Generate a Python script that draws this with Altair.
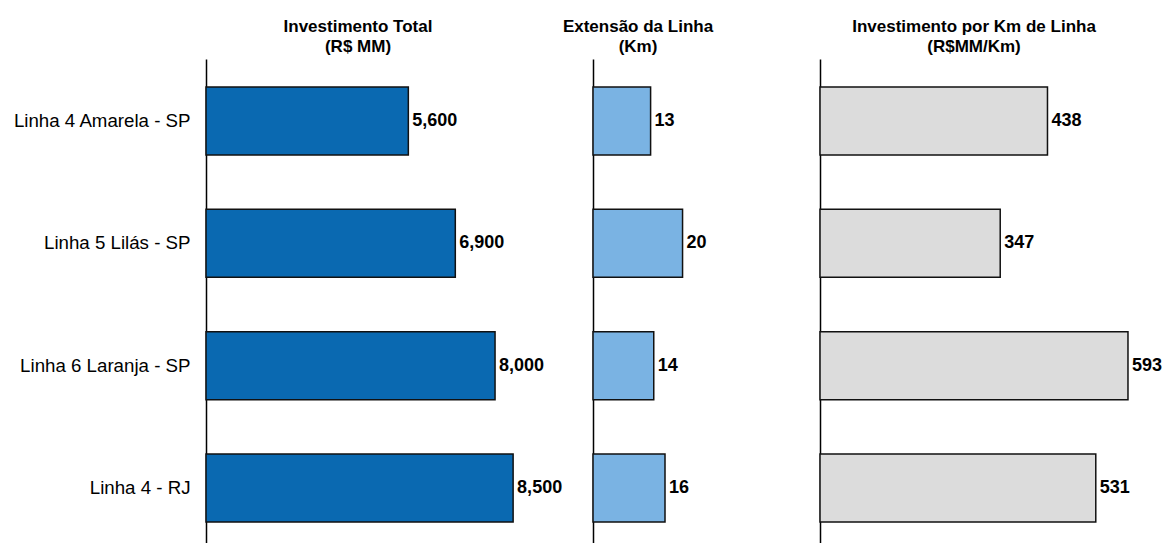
import altair as alt
import pandas as pd

linhas = ["Linha 4 Amarela - SP", "Linha 5 Lilás - SP", "Linha 6 Laranja - SP", "Linha 4 - RJ"]
investimento = [5600, 6900, 8000, 8500]          # R$ MM
extensao = [12.8, 19.9, 13.5, 16.0]              # Km (labels rounded)
invest_km = [438, 347, 593, 531]                 # R$MM/Km

df = pd.DataFrame({
    "linha": linhas,
    "investimento": investimento,
    "extensao": extensao,
    "invest_km": invest_km,
})

FONT = "Liberation Sans"

yscale = alt.Scale(paddingInner=0.444, paddingOuter=0.2045, align=0.56)


def panel(field, color, xmax, width, title_lines, dx, fmt, show_labels):
    if show_labels:
        yaxis = alt.Axis(title=None, ticks=False, grid=False, domain=True,
                         domainColor="black", domainWidth=1.5,
                         labelFont=FONT, labelFontSize=18.7, labelColor="black",
                         labelPadding=16, labelLimit=400)
    else:
        yaxis = alt.Axis(title=None, ticks=False, grid=False, domain=True,
                         domainColor="black", domainWidth=1.5, labels=False)
    y = alt.Y("linha:N", sort=linhas, scale=yscale, axis=yaxis)
    x = alt.X(f"{field}:Q", scale=alt.Scale(domain=[0, xmax], nice=False, zero=True), axis=None)
    bars = alt.Chart(df).mark_bar(color=color, stroke="#111111", strokeWidth=1.5).encode(x=x, y=y)
    text = alt.Chart(df).mark_text(
        align="left", baseline="middle", dx=4, font=FONT, fontSize=18,
        fontWeight="bold", color="black"
    ).encode(x=x, y=y, text=alt.Text(f"{field}:Q", format=fmt))
    return alt.layer(bars, text).properties(
        width=width, height=485,
        title=alt.TitleParams(text=title_lines, font=FONT, fontSize=17, fontWeight="bold",
                              color="black", anchor="middle", dx=dx, lineHeight=20, offset=3),
    )


p1 = panel("investimento", "#0A69B1", 10711, 387, ["Investimento Total", "(R$ MM)"], -41.5, ",.0f", True)
p2 = panel("extensao", "#7AB3E3", 50.44, 227, ["Extensão da Linha", "(Km)"], -68.5, ".0f", False)
p3 = panel("invest_km", "#DCDCDC", 658.5, 342, ["Investimento por Km de Linha", "(R$MM/Km)"], -17, ".0f", False)

chart = alt.hconcat(p1, p2, p3, spacing=0, bounds="flush").properties(
    padding={"left": 12, "top": 18, "right": 2, "bottom": 0},
    background="white",
).configure_view(stroke=None)

chart.save("out.html", embed_options={"renderer": "svg", "actions": False})
